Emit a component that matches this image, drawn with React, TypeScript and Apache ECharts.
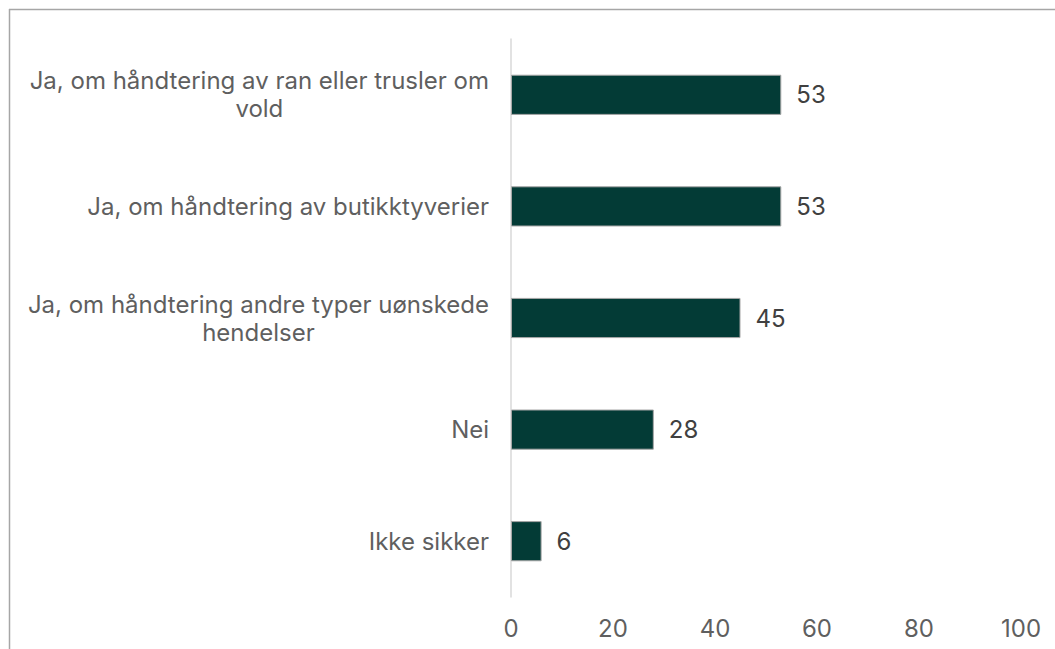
import React, { useEffect, useRef } from "react";
import * as echarts from "echarts";

const categories: string[] = [
  "Ja, om håndtering av ran eller trusler om\nvold",
  "Ja, om håndtering av butikktyverier",
  "Ja, om håndtering andre typer uønskede\nhendelser",
  "Nei",
  "Ikke sikker",
];
const values: number[] = [53, 53, 45, 28, 6];
const xTicks = { min: 0, max: 100, interval: 20 };

export default function App() {
  const ref = useRef<HTMLDivElement>(null);
  useEffect(() => {
    if (!ref.current) return;
    const chart = echarts.init(ref.current, null, { renderer: "svg" });
    const font = "Inter, 'Noto Sans', sans-serif";
    const weight = 400;
    chart.setOption({
      animation: false,
      backgroundColor: "#ffffff",
      grid: { left: 511, right: 34, top: 39, bottom: 52, containLabel: false },
      xAxis: {
        type: "value",
        min: xTicks.min,
        max: xTicks.max,
        interval: xTicks.interval,
        axisLine: { show: false },
        axisTick: { show: false },
        splitLine: { show: false },
        axisLabel: { color: "#5f5f5f", fontSize: 24, fontWeight: weight, fontFamily: font, margin: 19 },
      },
      yAxis: {
        type: "category",
        inverse: true,
        data: categories,
        axisLine: { show: true, lineStyle: { color: "#d9d9d9", width: 1.5 } },
        axisTick: { show: false },
        axisLabel: {
          color: "#5f5f5f",
          fontSize: 24,
          fontWeight: weight,
          fontFamily: font,
          margin: 22,
          lineHeight: 28,
          formatter: (v: string) =>
            v
              .split("\n")
              .map((l) => `{c|${l}}`)
              .join("\n"),
          rich: {
            c: {
              align: "center",
              color: "#5f5f5f",
              fontSize: 24,
              fontWeight: weight,
              fontFamily: font,
              lineHeight: 28,
            },
          },
        },
      },
      series: [
        {
          type: "bar",
          data: values,
          barWidth: "36%",
          itemStyle: { color: "#033b36", borderColor: "#a6a6a6", borderWidth: 1 },
          label: {
            show: true,
            position: "right",
            distance: 15,
            color: "#404040",
            fontSize: 24,
            fontWeight: weight,
            fontFamily: font,
          },
        },
      ],
      graphic: [
        {
          type: "line",
          shape: { x1: 9.5, y1: 9, x2: 9.5, y2: 649 },
          style: { stroke: "#a6a6a6", lineWidth: 1.5 },
        },
        {
          type: "line",
          shape: { x1: 9, y1: 9.5, x2: 1055, y2: 9.5 },
          style: { stroke: "#a6a6a6", lineWidth: 1.5 },
        },
      ],
    });
    return () => chart.dispose();
  }, []);
  return (
    <div
      ref={ref}
      style={{ position: "fixed", left: 0, top: 0, width: 1055, height: 649 }}
    />
  );
}
